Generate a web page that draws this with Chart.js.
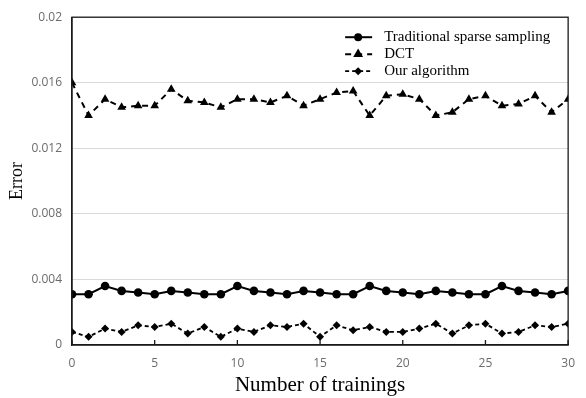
<!DOCTYPE html>
<html>
<head>
<meta charset="utf-8">
<script src="https://cdn.jsdelivr.net/npm/chart.js@4/dist/chart.umd.min.js"></script>
<style>
    html, body { margin: 0; padding: 0; background: #fff; }
    #caixa { width: 586px; height: 398px; }
</style>
</head>
<body>
<div id="caixa"><canvas id="graficoErro"></canvas></div>
<script>
// Dados
var treinos = [0, 1, 2, 3, 4, 5, 6, 7, 8, 9, 10, 11, 12, 13, 14, 15, 16, 17, 18, 19, 20, 21, 22, 23, 24, 25, 26, 27, 28, 29, 30]
var amostragemTradicional = [0.0031, 0.0031, 0.0036, 0.0033, 0.0032, 0.0031, 0.0033, 0.0032, 0.0031, 0.0031, 0.0036,
    0.0033, 0.0032, 0.0031, 0.0033, 0.0032, 0.0031, 0.0031, 0.0036, 0.0033, 0.0032,
    0.0031, 0.0033, 0.0032, 0.0031, 0.0031, 0.0036, 0.0033, 0.0032, 0.0031, 0.0033]
var dct = [0.016, 0.014, 0.015, 0.0145, 0.0146, 0.0146, 0.0156, 0.0149, 0.0148, 0.0145, 0.015,
    0.015, 0.0148, 0.0152, 0.0146, 0.015, 0.0154, 0.0155, 0.014, 0.0152, 0.0153,
    0.015, 0.014, 0.0142, 0.015, 0.0152, 0.0146, 0.0147, 0.0152, 0.0142, 0.015]
var nossoAlgoritmo = [0.0008, 0.0005, 0.001, 0.0008, 0.0012, 0.0011, 0.0013, 0.0007, 0.0011, 0.0005, 0.001,
    0.0008, 0.0012, 0.0011, 0.0013, 0.0005, 0.0012, 0.0009, 0.0011, 0.0008, 0.0008,
    0.001, 0.0013, 0.0007, 0.0012, 0.0013, 0.0007, 0.0008, 0.0012, 0.0011, 0.0013]
var nomesSeries = ['Traditional sparse sampling', 'DCT', 'Our algorithm']
var ticksX = [0, 5, 10, 15, 20, 25, 30]
var ticksY = [0, 0.004, 0.008, 0.012, 0.016, 0.02]

function pontos(valores) {
    return valores.map(function (v, i) { return { x: treinos[i], y: v } })
}

// moldura do gráfico + marcas internas no eixo x
var moldura = {
    id: 'moldura',
    afterDatasetsDraw(chart) {
        var ctx = chart.ctx
        var area = chart.chartArea
        var escalaX = chart.scales.x
        ctx.save()
        ctx.strokeStyle = '#1a1a1a'
        ctx.lineWidth = 1.3
        ctx.strokeRect(area.left, area.top, area.right - area.left, area.bottom - area.top)
        ticksX.forEach(function (t) {
            var px = escalaX.getPixelForValue(t)
            ctx.beginPath()
            ctx.moveTo(px, area.bottom)
            ctx.lineTo(px, area.bottom - 5)
            ctx.stroke()
        })
        ctx.restore()
    }
}

// legenda dentro da área do gráfico
var legendaInterna = {
    id: 'legendaInterna',
    afterDraw(chart) {
        var ctx = chart.ctx
        var area = chart.chartArea
        var x0 = area.right - 223
        chart.data.datasets.forEach(function (ds, i) {
            var y = area.top + 20 + i * 17
            ctx.save()
            ctx.strokeStyle = '#000'
            ctx.fillStyle = '#000'
            ctx.lineWidth = ds.borderWidth
            ctx.setLineDash(ds.borderDash || [])
            ctx.beginPath()
            ctx.moveTo(x0, y)
            ctx.lineTo(x0 + 27, y)
            ctx.stroke()
            ctx.setLineDash([])
            Chart.helpers.drawPoint(ctx, { pointStyle: ds.pointStyle, radius: ds.pointRadius - 1.3, borderWidth: 1, rotation: 0 }, x0 + 13, y)
            ctx.font = '15px "Liberation Serif", "Times New Roman", serif'
            ctx.textBaseline = 'middle'
            ctx.textAlign = 'left'
            ctx.fillText(ds.label, x0 + 39, y)
            ctx.restore()
        })
    }
}

var ctx = document.getElementById('graficoErro')
createErro(ctx)

function createErro(ctx) {

    graficoErro = new Chart(ctx, {
        type: 'line',
        data: {
            datasets: [{
                label: nomesSeries[0],
                data: pontos(amostragemTradicional),
                borderColor: '#000',
                backgroundColor: '#000',
                borderWidth: 2,
                pointStyle: 'circle',
                pointRadius: 4.3,
                pointBorderWidth: 0,
                tension: 0
            }, {
                label: nomesSeries[1],
                data: pontos(dct),
                borderColor: '#000',
                backgroundColor: '#000',
                borderWidth: 2,
                borderDash: [6, 5],
                pointStyle: 'triangle',
                pointRadius: 5,
                pointBorderWidth: 0,
                tension: 0
            }, {
                label: nomesSeries[2],
                data: pontos(nossoAlgoritmo),
                borderColor: '#000',
                backgroundColor: '#000',
                borderWidth: 1.8,
                borderDash: [4, 3],
                pointStyle: 'rectRot',
                pointRadius: 4,
                pointBorderWidth: 0,
                tension: 0
            }]
        },
        options: {
            responsive: true,
            maintainAspectRatio: false,
            animation: false,
            layout: {
                autoPadding: false,
                padding: { left: 6, top: 13, right: 6, bottom: 0 }
            },
            plugins: {
                legend: { display: false },
                tooltip: { enabled: false }
            },
            scales: {
                x: {
                    type: 'linear',
                    min: 0,
                    max: 30,
                    afterBuildTicks: function (escala) {
                        escala.ticks = ticksX.map(function (v) { return { value: v } })
                    },
                    afterFit: function (escala) { escala.height = 53 },
                    grid: { display: false, drawTicks: false },
                    border: { display: true, color: '#1a1a1a', width: 1.3 },
                    ticks: {
                        padding: 11,
                        color: '#6b6b6b',
                        font: { family: '"Open Sans", sans-serif', size: 12 }
                    },
                    title: {
                        display: true,
                        text: 'Number of trainings',
                        color: '#000',
                        padding: 0,
                        font: { family: '"Liberation Serif", "Times New Roman", serif', size: 21 }
                    }
                },
                y: {
                    min: 0,
                    max: 0.02,
                    afterBuildTicks: function (escala) {
                        escala.ticks = ticksY.map(function (v) { return { value: v } })
                    },
                    afterFit: function (escala) { escala.width = 66 },
                    grid: { color: '#d9d9d9', lineWidth: 1, drawTicks: false },
                    border: { display: true, color: '#1a1a1a', width: 1.3 },
                    ticks: {
                        padding: 10,
                        color: '#6b6b6b',
                        font: { family: '"Open Sans", sans-serif', size: 12 },
                        callback: function (v) { return String(parseFloat(v.toFixed(3))) }
                    },
                    title: {
                        display: true,
                        text: 'Error',
                        color: '#000',
                        padding: 0,
                        font: { family: '"Liberation Serif", "Times New Roman", serif', size: 18 }
                    }
                }
            }
        },
        plugins: [moldura, legendaInterna]
    });
}
</script>
</body>
</html>
